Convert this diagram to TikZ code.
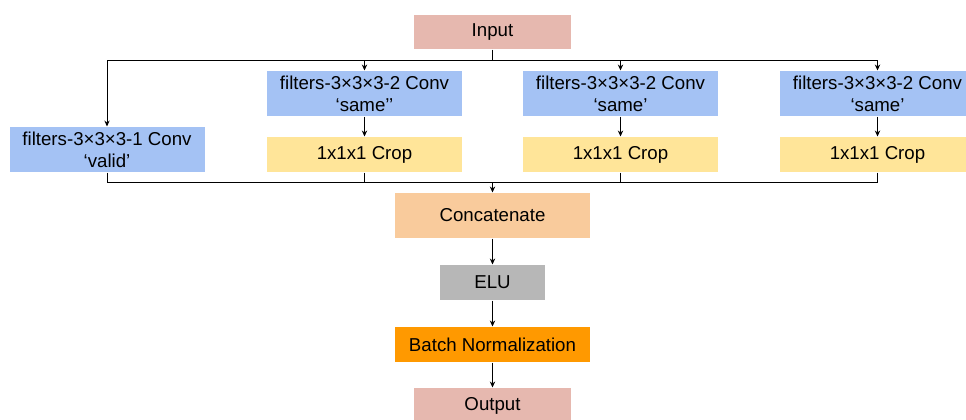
\documentclass[tikz,border=0pt]{standalone}
\usepackage{fontspec}
\setmainfont{Liberation Sans}
\usetikzlibrary{arrows.meta}
\definecolor{inpink}{HTML}{E6B8AF}
\definecolor{convblue}{HTML}{A4C2F4}
\definecolor{cropyellow}{HTML}{FFE599}
\definecolor{catorange}{HTML}{F9CB9C}
\definecolor{elugray}{HTML}{B7B7B7}
\definecolor{bnorange}{HTML}{FF9900}
\tikzset{
  box/.style={inner sep=0pt, align=center, font=\fontsize{14}{16.5}\selectfont},
  convbox/.style={box, fill=convblue, minimum width=146.25pt, minimum height=33.75pt},
  cropbox/.style={box, fill=cropyellow, minimum width=146.25pt, minimum height=26.25pt},
  arr/.style={-{Stealth[length=4.5pt,width=4pt]}},
}
\begin{document}
\begin{tikzpicture}[x=0.75pt, y=-0.75pt, line width=0.75pt]
\clip (0,0) rectangle (966,419);
\node[box, fill=inpink, minimum width=117.75pt, minimum height=25.5pt] (in) at (492.5,32) {Input};
\node[convbox] (cv1) at (107,149.5) {filters-3×3×3-1 Conv\\‘valid’};
\node[convbox] (cv2) at (364.5,93.5) {filters-3×3×3-2 Conv\\‘same’’};
\node[convbox] (cv3) at (620.5,93.5) {filters-3×3×3-2 Conv\\‘same’};
\node[convbox] (cv4) at (877.5,93.5) {filters-3×3×3-2 Conv\\‘same’};
\node[cropbox] (cr2) at (364.5,154.5) {1x1x1 Crop};
\node[cropbox] (cr3) at (620.5,154.5) {1x1x1 Crop};
\node[cropbox] (cr4) at (877.5,154.5) {1x1x1 Crop};
\node[box, fill=catorange, minimum width=146.25pt, minimum height=33.75pt] (cat) at (492.5,215.5) {Concatenate};
\node[box, fill=elugray, minimum width=78.75pt, minimum height=26.25pt] (elu) at (492.5,282.5) {ELU};
\node[box, fill=bnorange, minimum width=146.25pt, minimum height=26.25pt] (bn) at (492.5,344.5) {Batch Normalization};
\node[box, fill=inpink, minimum width=117.75pt, minimum height=26.25pt] (out) at (492.5,405.5) {Output};
% split
\coordinate (top) at (492.5,60);
\draw (in.south) -- (top);
\draw[arr] (top) -| (cv1.north);
\draw[arr] (top) -| (cv2.north);
\draw[arr] (top) -| (cv3.north);
\draw[arr] (top) -| (cv4.north);
\draw[arr] (cv2) -- (cr2);
\draw[arr] (cv3) -- (cr3);
\draw[arr] (cv4) -- (cr4);
% merge
\coordinate (bot) at (492.5,182);
\draw (cv1.south) |- (bot);
\draw (cr2.south) |- (bot);
\draw (cr3.south) |- (bot);
\draw (cr4.south) |- (bot);
\draw[arr] (bot) -- (cat);
\draw[arr] (cat) -- (elu);
\draw[arr] (elu) -- (bn);
\draw[arr] (bn) -- (out);
\end{tikzpicture}
\end{document}
